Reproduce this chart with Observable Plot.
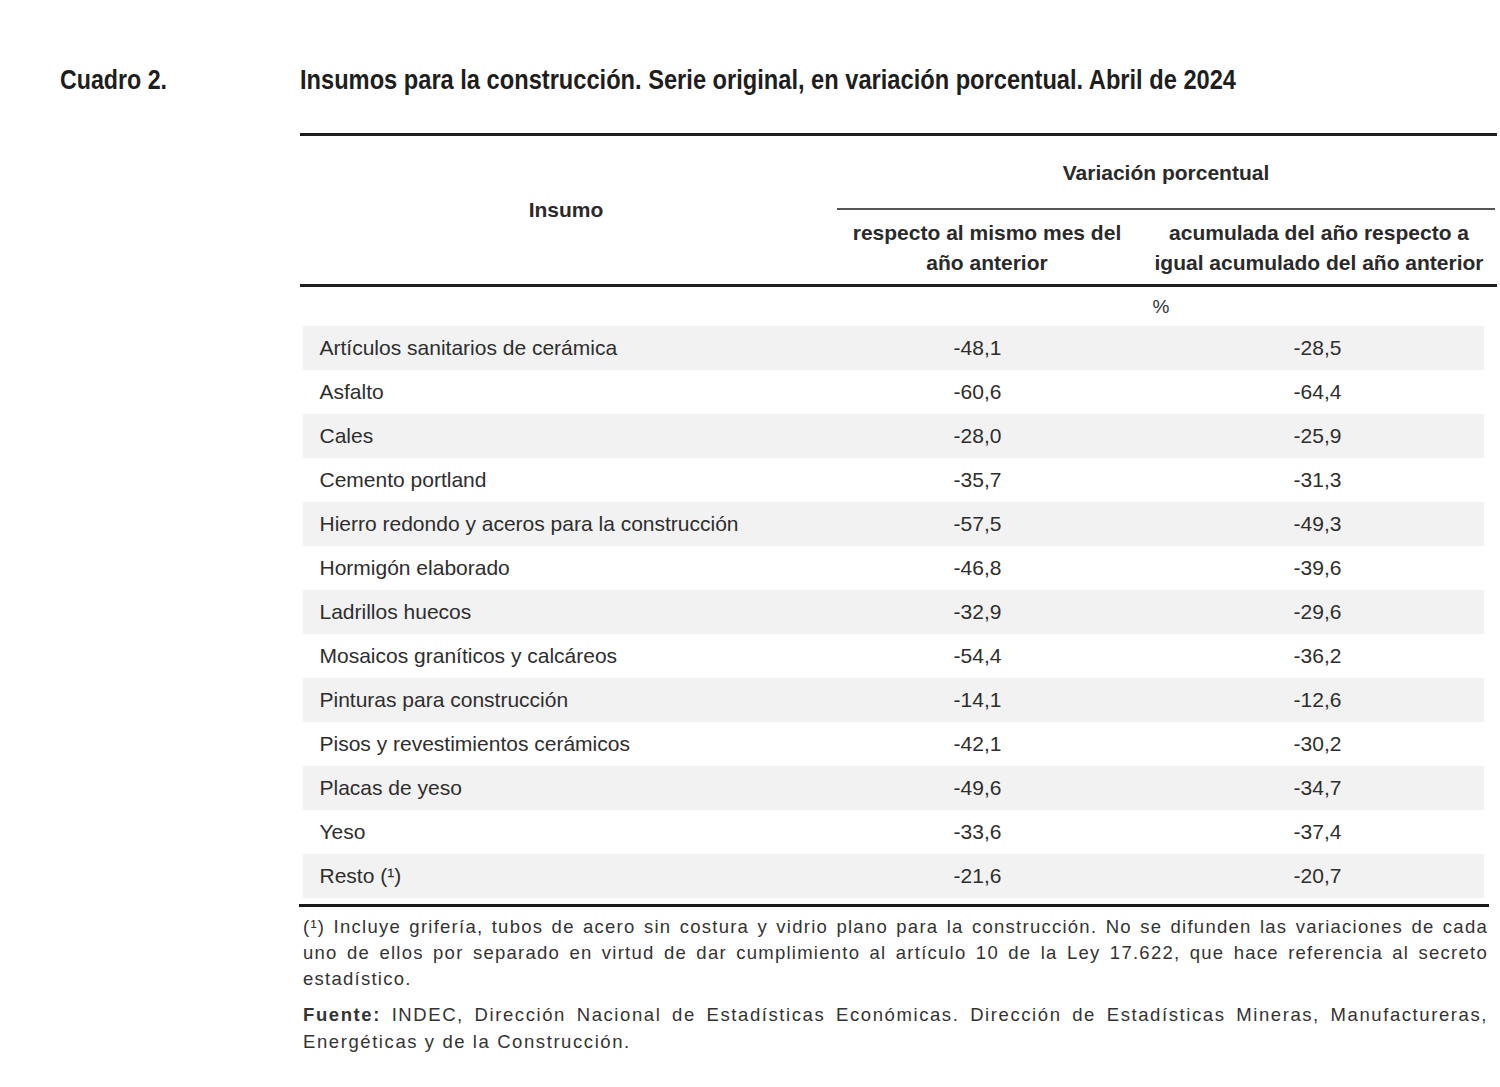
<!DOCTYPE html>
<html>
<head>
<meta charset="utf-8">
<script src="https://cdn.jsdelivr.net/npm/d3@7"></script>
<script src="https://cdn.jsdelivr.net/npm/@observablehq/plot@0.6"></script>
<style>
  body { margin: 0; background: #fff; }
  #page { position: relative; width: 1500px; height: 1087px; overflow: hidden; color: #222;
          font-family: "Liberation Sans", Arial, sans-serif; }
  .abs { position: absolute; white-space: nowrap; }
  .fit { display: inline-block; transform-origin: 0 50%; font-weight: bold; font-size: 27px; line-height: 32px; color: #1e1e1e; }
  .line { position: absolute; background: #1e1e1e; }
  .head { font-size: 21px; font-weight: bold; line-height: 30px; text-align: center; color: #2a2a2a; }
  .note { position: absolute; left: 303px; width: 1185px; font-family: "Liberation Sans", Arial, sans-serif;
          font-size: 18.5px; color: #333; }
  .note div { text-align: justify; text-align-last: justify; white-space: nowrap; }
  .note div.last { text-align-last: left; }
  #chart { position: absolute; left: 0; top: 290px; }
</style>
</head>
<body>
<div id="page">
  <div class="abs" style="left:60px; top:64px;"><span class="fit" data-w="107">Cuadro 2.</span></div>
  <div class="abs" style="left:300px; top:64px;"><span class="fit" data-w="936">Insumos para la construcción. Serie original, en variación porcentual. Abril de 2024</span></div>

  <div class="line" style="left:300px; top:133px; width:1197px; height:3px;"></div>
  <div class="abs head" style="left:837px; width:658px; top:158px;">Variación porcentual</div>
  <div class="line" style="left:837px; top:208px; width:658px; height:2px; background:#555;"></div>
  <div class="abs head" style="left:300px; width:532px; top:195px;">Insumo</div>
  <div class="abs head" style="left:807px; width:360px; top:218px;">respecto al mismo mes del<br>año anterior</div>
  <div class="abs head" style="left:1139px; width:360px; top:218px;">acumulada del año respecto a<br>igual acumulado del año anterior</div>
  <div class="line" style="left:300px; top:284px; width:1197px; height:3px;"></div>
  <div class="abs" style="left:1131px; width:60px; top:295px; font-size:19px; line-height:24px; text-align:center; color:#333;">%</div>

  <div id="chart"></div>

  <div class="note" id="n1" style="top:914px; line-height:26px;">
    <div>(¹) Incluye grifería, tubos de acero sin costura y vidrio plano para la construcción. No se difunden las variaciones de cada</div>
    <div>uno de ellos por separado en virtud de dar cumplimiento al artículo 10 de la Ley 17.622, que hace referencia al secreto</div>
    <div class="last">estadístico.</div>
  </div>
  <div class="note" id="n2" style="top:1001px; line-height:27px;">
    <div><b>Fuente:</b> INDEC, Dirección Nacional de Estadísticas Económicas. Dirección de Estadísticas Mineras, Manufactureras,</div>
    <div class="last">Energéticas y de la Construcción.</div>
  </div>
</div>
<script>
const insumos = [
  "Artículos sanitarios de cerámica",
  "Asfalto",
  "Cales",
  "Cemento portland",
  "Hierro redondo y aceros para la construcción",
  "Hormigón elaborado",
  "Ladrillos huecos",
  "Mosaicos graníticos y calcáreos",
  "Pinturas para construcción",
  "Pisos y revestimientos cerámicos",
  "Placas de yeso",
  "Yeso",
  "Resto (¹)"
];
const mismoMes = [-48.1, -60.6, -28.0, -35.7, -57.5, -46.8, -32.9, -54.4, -14.1, -42.1, -49.6, -33.6, -21.6];
const acumulada = [-28.5, -64.4, -25.9, -31.3, -49.3, -39.6, -29.6, -36.2, -12.6, -30.2, -34.7, -37.4, -20.7];
const columnas = ["mes", "acum"];

const rows = insumos.map((name, i) => ({name, mes: mismoMes[i], acum: acumulada[i], i}));
const fmt = v => v.toFixed(1).replace(".", ",");

const plot = Plot.plot({
  width: 1500,
  height: 620,
  marginLeft: 300,
  marginRight: 13,
  marginTop: 0,
  marginBottom: 5,
  x: {type: "point", domain: columnas, range: [977, 1317], padding: 0, axis: null},
  y: {type: "band", domain: insumos, range: [31.5, 613], padding: 0, axis: null},
  style: {
    fontFamily: '"Liberation Sans", Arial, sans-serif',
    fontSize: "21px",
    color: "#2e2e2e",
    background: "transparent",
    overflow: "visible"
  },
  marks: [
    Plot.cell(rows.filter(d => d.i % 2 === 0), {y: "name", fill: "#f2f2f2", insetLeft: 3, insetRight: 3}),
    Plot.text(rows, {y: "name", text: "name", frameAnchor: "left", dx: 19, textAnchor: "start", fill: "#2e2e2e"}),
    Plot.text(rows, {x: () => "mes", y: "name", text: d => fmt(d.mes), fill: "#2e2e2e"}),
    Plot.text(rows, {x: () => "acum", y: "name", text: d => fmt(d.acum), fill: "#2e2e2e"}),
    Plot.frame({anchor: "bottom", stroke: "#1a1a1a", strokeWidth: 3})
  ]
});
document.getElementById("chart").appendChild(plot);

// condense the title texts to the width they take in the original
document.querySelectorAll(".fit").forEach(el => {
  const w = el.getBoundingClientRect().width;
  el.style.transform = `scaleX(${(+el.dataset.w) / w})`;
});

// widen letter spacing of notes so the first line fills the width naturally
["n1", "n2"].forEach(id => {
  const block = document.getElementById(id);
  const first = block.querySelector("div");
  const probe = document.createElement("span");
  probe.innerHTML = first.innerHTML;
  probe.style.whiteSpace = "nowrap";
  probe.style.position = "absolute";
  probe.style.visibility = "hidden";
  block.appendChild(probe);
  const w = probe.getBoundingClientRect().width;
  const n = first.textContent.length;
  block.removeChild(probe);
  const ls = Math.max(0, (1185 - w) / n * 0.8);
  block.style.letterSpacing = ls + "px";
});
</script>
</body>
</html>
